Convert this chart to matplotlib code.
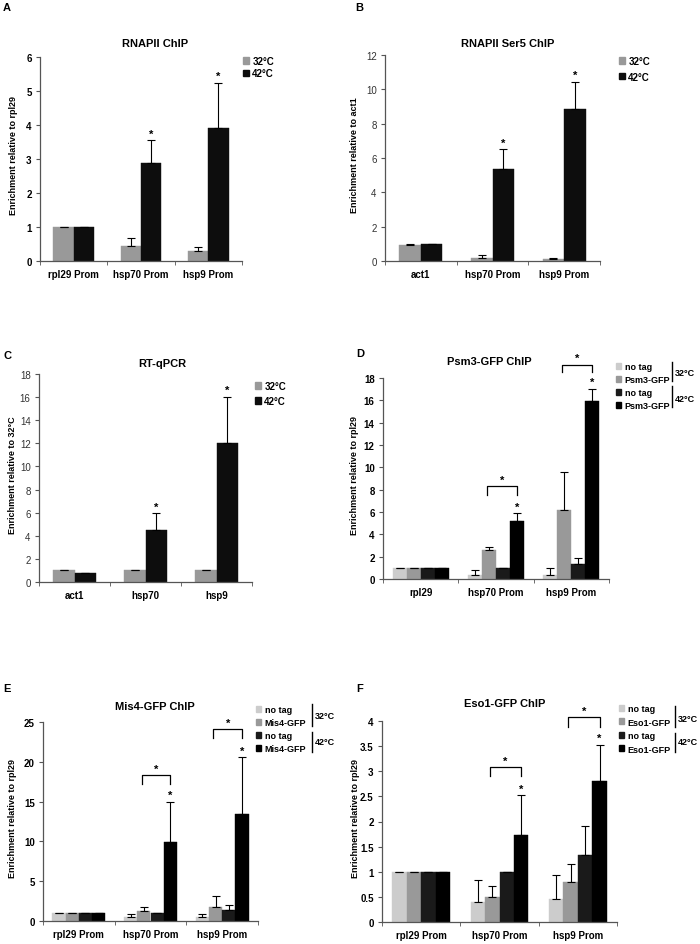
import matplotlib
matplotlib.use("Agg")
from matplotlib import pyplot as plt
from matplotlib.patches import Patch
from matplotlib.lines import Line2D
import numpy as np

plt.rcParams['font.family'] = ['Liberation Sans', 'DejaVu Sans']

# ---- data ----
a_cats = ["rpl29 Prom", "hsp70 Prom", "hsp9 Prom"]
a_32 = [1.0, 0.43, 0.30]
a_32_err = [0.01, 0.25, 0.10]
a_42 = [1.0, 2.88, 3.90]
a_42_err = [0.0, 0.67, 1.35]

b_cats = ["act1", "hsp70 Prom", "hsp9 Prom"]
b_32 = [0.95, 0.18, 0.12]
b_32_err = [0.05, 0.17, 0.06]
b_42 = [0.97, 5.38, 8.88]
b_42_err = [0.03, 1.14, 1.57]

c_cats = ["act1", "hsp70", "hsp9"]
c_32 = [1.0, 1.0, 1.0]
c_32_err = [0.0, 0.0, 0.0]
c_42 = [0.8, 4.5, 12.0]
c_42_err = [0.0, 1.45, 4.05]

d_cats = ["rpl29", "hsp70 Prom", "hsp9 Prom"]
d_notag32 = [1.0, 0.40, 0.40]
d_notag32_err = [0.02, 0.45, 0.55]
d_gfp32 = [1.0, 2.60, 6.20]
d_gfp32_err = [0.02, 0.30, 3.35]
d_notag42 = [1.0, 1.0, 1.30]
d_notag42_err = [0.0, 0.0, 0.60]
d_gfp42 = [1.0, 5.20, 15.90]
d_gfp42_err = [0.0, 0.70, 1.15]

e_cats = ["rpl29 Prom", "hsp70 Prom", "hsp9 Prom"]
e_notag32 = [1.0, 0.45, 0.50]
e_notag32_err = [0.05, 0.40, 0.40]
e_gfp32 = [1.0, 1.30, 1.80]
e_gfp32_err = [0.05, 0.50, 1.40]
e_notag42 = [1.0, 1.0, 1.35]
e_notag42_err = [0.0, 0.0, 0.60]
e_gfp42 = [1.0, 9.90, 13.50]
e_gfp42_err = [0.0, 5.10, 7.10]

f_cats = ["rpl29 Prom", "hsp70 Prom", "hsp9 Prom"]
f_notag32 = [1.0, 0.40, 0.46]
f_notag32_err = [0.0, 0.43, 0.47]
f_gfp32 = [1.0, 0.49, 0.80]
f_gfp32_err = [0.0, 0.23, 0.35]
f_notag42 = [1.0, 1.0, 1.33]
f_notag42_err = [0.0, 0.0, 0.58]
f_gfp42 = [1.0, 1.74, 2.80]
f_gfp42_err = [0.0, 0.78, 0.73]

# significance brackets: (category index, top value, leg bottom value)
d_brackets = [(1, 8.3, 7.5), (2, 19.2, 18.5)]
e_brackets = [(1, 18.3, 17.2), (2, 24.1, 23.0)]
f_brackets = [(1, 3.08, 2.91), (2, 4.07, 3.88)]

two_colors = ["#999999", "#0d0d0d"]
four_colors = ["#cccccc", "#999999", "#1a1a1a", "#000000"]

W, H = 700, 945
fig = plt.figure(figsize=(W / 100, H / 100), dpi=100)


def add_ax(x0, y0, x1, y1):
    return fig.add_axes([x0 / W, 1 - y1 / H, (x1 - x0) / W, (y1 - y0) / H])


def style_axes(ax, cats, ylim, ystep, bold_ticks, ylabel, label_x, title, title_x, title_pad):
    n = len(cats)
    ax.set_xlim(-0.5, n - 0.5)
    ax.set_ylim(*ylim)
    ticks = np.arange(ylim[0], ylim[1] + ystep / 2, ystep)
    ax.set_yticks(ticks)
    ax.set_yticklabels(["%g" % t for t in ticks])
    ax.set_xticks(range(n))
    ax.set_xticklabels(cats, fontsize=7, fontweight="bold")
    ax.set_xticks(np.arange(-0.5, n), minor=True)
    ax.tick_params(axis="x", which="major", length=0, pad=6)
    ax.tick_params(axis="x", which="minor", length=3, direction="out", color="#555555")
    ax.tick_params(axis="y", length=3, direction="out", color="#555555", pad=3,
                   labelsize=7, labelcolor="#000000" if bold_ticks else "#333333")
    if bold_ticks:
        for t in ax.get_yticklabels():
            t.set_fontweight("bold")
    for s in ["top", "right"]:
        ax.spines[s].set_visible(False)
    for s in ["left", "bottom"]:
        ax.spines[s].set_color("#555555")
        ax.spines[s].set_linewidth(0.9)
    ax.set_ylabel(ylabel, fontsize=6.5, fontweight="bold")
    ax.yaxis.set_label_coords(label_x, 0.52)
    ax.set_title(title, fontsize=8, fontweight="bold", x=title_x, pad=title_pad)


def draw_bars(ax, series, errs, colors, width):
    n = len(series)
    x = np.arange(len(series[0]))
    offsets = (np.arange(n) - (n - 1) / 2) * width
    tops = []
    for vals, err, col, off in zip(series, errs, colors, offsets):
        ax.bar(x + off, vals, width, color=col, edgecolor=col, linewidth=0.3)
        ax.errorbar(x + off, vals, yerr=[np.zeros(len(vals)), err], fmt="none",
                    ecolor="black", elinewidth=0.8, capsize=3, capthick=0.8)
        tops.append((x + off, np.array(vals) + np.array(err)))
    return offsets, tops


def add_star(ax, x, y):
    ax.annotate("*", (x, y), xytext=(0, 1), textcoords="offset points",
                ha="center", va="bottom", fontsize=8, fontweight="bold", annotation_clip=False)


def add_legend(ax, labels, colors, x_px, y_px, spacing, size=7):
    handles = [Patch(facecolor=c, edgecolor=c) for c in colors]
    ax.legend(handles, labels, loc="upper left", bbox_to_anchor=(x_px / W, 1 - y_px / H),
              bbox_transform=fig.transFigure, frameon=False, borderpad=0, borderaxespad=0,
              handlelength=0.6, handleheight=0.6, handletextpad=0.35, labelspacing=spacing,
              prop={"size": size, "weight": "bold"})


def temp_brackets(x_px, segs, texts):
    for (y0, y1) in segs:
        fig.add_artist(Line2D([x_px / W, x_px / W], [1 - y0 / H, 1 - y1 / H],
                              color="black", lw=1))
    for label, y in texts:
        fig.text((x_px + 3) / W, 1 - y / H, label, fontsize=6.5, fontweight="bold", va="center")


def sig_brackets(ax, offsets, brackets):
    for cat, top, low in brackets:
        x0 = cat + offsets[1] - 0.03
        x1 = cat + offsets[3]
        ax.plot([x0, x0, x1, x1], [low, top, top, low], color="black", lw=0.9, clip_on=False)
        add_star(ax, (x0 + x1) / 2, top)


# ---- A ----
ax = add_ax(40, 58, 242, 262)
offs, tops = draw_bars(ax, [a_32, a_42], [a_32_err, a_42_err], two_colors, 0.3)
style_axes(ax, a_cats, (0, 6), 1, True, "Enrichment relative to rpl29", -0.11,
           "RNAPII ChIP", 0.57, 8)
for i in [1, 2]:
    add_star(ax, tops[1][0][i], tops[1][1][i])
add_legend(ax, ["32°C", "42°C"], two_colors, 243, 57, 0.25)

# ---- B ----
ax = add_ax(385, 56, 600, 262)
offs, tops = draw_bars(ax, [b_32, b_42], [b_32_err, b_42_err], two_colors, 0.3)
style_axes(ax, b_cats, (0, 12), 2, False, "Enrichment relative to act1", -0.12,
           "RNAPII Ser5 ChIP", 0.57, 6.5)
for i in [1, 2]:
    add_star(ax, tops[1][0][i], tops[1][1][i])
add_legend(ax, ["32°C", "42°C"], two_colors, 619, 57, 0.6)

# ---- C ----
ax = add_ax(39, 375, 252, 583)
offs, tops = draw_bars(ax, [c_32, c_42], [c_32_err, c_42_err], two_colors, 0.3)
style_axes(ax, c_cats, (0, 18), 2, False, "Enrichment relative to 32°C", -0.105,
           "RT-qPCR", 0.58, 6)
for i in [1, 2]:
    add_star(ax, tops[1][0][i], tops[1][1][i])
add_legend(ax, ["32°C", "42°C"], two_colors, 255, 382, 0.5)

# ---- D ----
ax = add_ax(383, 379, 609, 580)
offs, tops = draw_bars(ax, [d_notag32, d_gfp32, d_notag42, d_gfp42],
                       [d_notag32_err, d_gfp32_err, d_notag42_err, d_gfp42_err], four_colors, 0.185)
style_axes(ax, d_cats, (0, 18), 2, True, "Enrichment relative to rpl29", -0.105,
           "Psm3-GFP ChIP", 0.47, 10)
for i in [1, 2]:
    add_star(ax, tops[3][0][i], tops[3][1][i])
sig_brackets(ax, offs, d_brackets)
add_legend(ax, ["no tag", "Psm3-GFP", "no tag", "Psm3-GFP"], four_colors, 616, 363, 0.45, 6.5)
temp_brackets(672, [(363, 382), (387, 408)], [("32°C", 373), ("42°C", 399)])

# ---- E ----
ax = add_ax(43, 723, 258, 922)
offs, tops = draw_bars(ax, [e_notag32, e_gfp32, e_notag42, e_gfp42],
                       [e_notag32_err, e_gfp32_err, e_notag42_err, e_gfp42_err], four_colors, 0.185)
style_axes(ax, e_cats, (0, 25), 5, True, "Enrichment relative to rpl29", -0.12,
           "Mis4-GFP ChIP", 0.52, 9.5)
for i in [1, 2]:
    add_star(ax, tops[3][0][i], tops[3][1][i])
sig_brackets(ax, offs, e_brackets)
add_legend(ax, ["no tag", "Mis4-GFP", "no tag", "Mis4-GFP"], four_colors, 256, 706, 0.45, 6.5)
temp_brackets(312, [(705, 727), (733, 753)], [("32°C", 717), ("42°C", 743)])

# ---- F ----
ax = add_ax(382, 722, 617, 923)
offs, tops = draw_bars(ax, [f_notag32, f_gfp32, f_notag42, f_gfp42],
                       [f_notag32_err, f_gfp32_err, f_notag42_err, f_gfp42_err], four_colors, 0.185)
style_axes(ax, f_cats, (0, 4), 0.5, True, "Enrichment relative to rpl29", -0.095,
           "Eso1-GFP ChIP", 0.52, 11)
for i in [1, 2]:
    add_star(ax, tops[3][0][i], tops[3][1][i])
sig_brackets(ax, offs, f_brackets)
add_legend(ax, ["no tag", "Eso1-GFP", "no tag", "Eso1-GFP"], four_colors, 619, 705, 0.5, 6.5)
temp_brackets(675, [(707, 728), (734, 753)], [("32°C", 720), ("42°C", 743)])

# panel letters
for letter, x, y in [("A", 3, 8), ("B", 355, 8), ("C", 3, 356),
                     ("D", 356, 354), ("E", 3, 689), ("F", 356, 689)]:
    fig.text(x / W, 1 - y / H, letter, fontsize=8, fontweight="bold", va="center")

fig.savefig("out.png", dpi=100, facecolor="white")
